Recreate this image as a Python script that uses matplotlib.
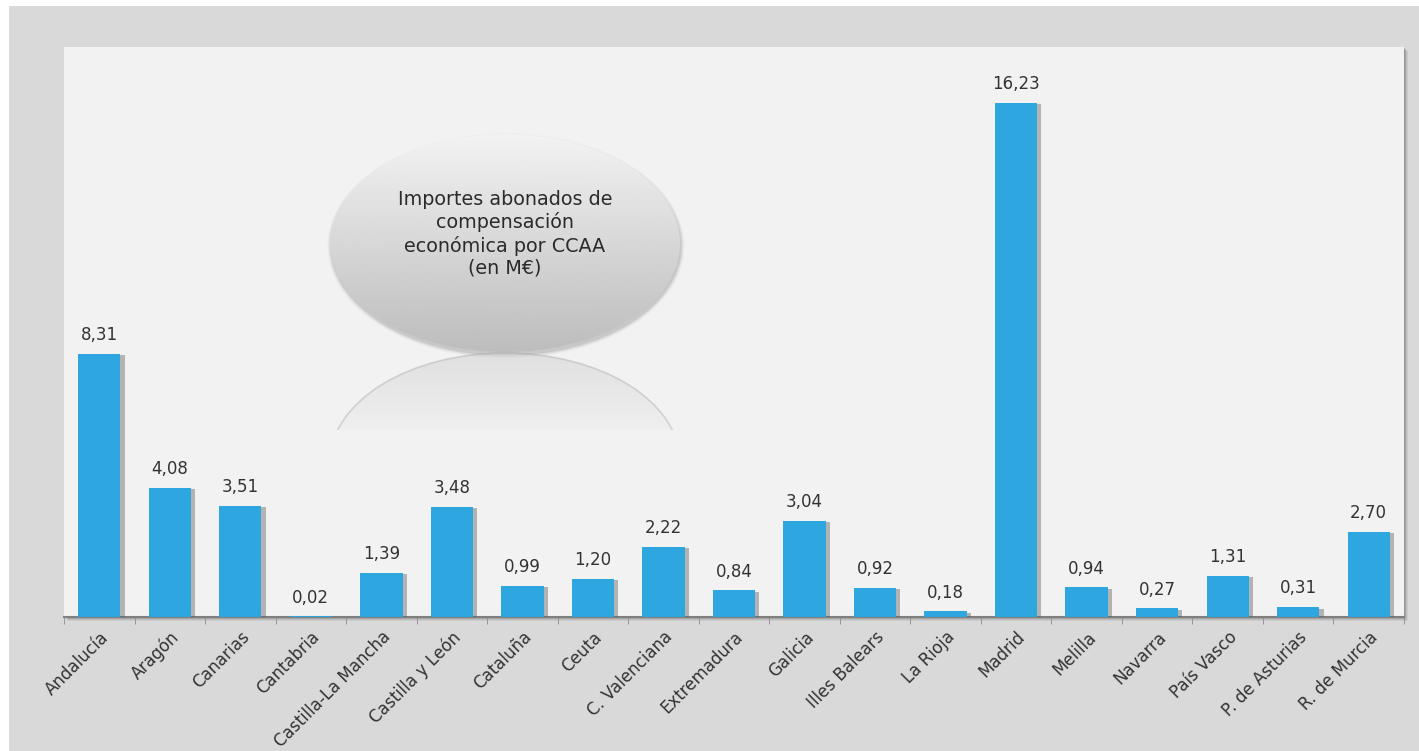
import matplotlib.pyplot as plt
import matplotlib.patheffects as pe
from matplotlib.patches import Ellipse, Rectangle
import numpy as np

regiones = ["Andalucía", "Aragón", "Canarias", "Cantabria", "Castilla-La Mancha",
            "Castilla y León", "Cataluña", "Ceuta", "C. Valenciana", "Extremadura",
            "Galicia", "Illes Balears", "La Rioja", "Madrid", "Melilla", "Navarra",
            "País Vasco", "P. de Asturias", "R. de Murcia"]
importes = [8.31, 4.08, 3.51, 0.02, 1.39, 3.48, 0.99, 1.20, 2.22, 0.84,
            3.04, 0.92, 0.18, 16.23, 0.94, 0.27, 1.31, 0.31, 2.70]
titulo = "Importes abonados de\ncompensación\neconómica por CCAA\n(en M€)"

W, H = 1419, 751
fig = plt.figure(figsize=(W / 100, H / 100), dpi=100, facecolor="white")
plt.rcParams["font.family"] = ["DejaVu Sans"]

# gray frame behind everything
fig.patches.append(Rectangle((9 / W, 0), 1 - 9 / W, 1 - 6 / H, transform=fig.transFigure,
                             facecolor="#d9d9d9", edgecolor="none", zorder=-3))

x0, x1, y0, y1 = 64, 1404, 47, 617
ax_rect = [x0 / W, 1 - y1 / H, (x1 - x0) / W, (y1 - y0) / H]
# drop shadow of the plot area
for k, a in [(4, 0.10), (3, 0.15), (2, 0.2), (1, 0.25)]:
    fig.patches.append(Rectangle((ax_rect[0] + k / W, ax_rect[1] - k / H), ax_rect[2], ax_rect[3],
                                 transform=fig.transFigure, facecolor="#606060", alpha=a,
                                 edgecolor="none", zorder=-2))
ax = fig.add_axes(ax_rect)
ax.set_facecolor("#f2f2f2")

x = np.arange(len(regiones))
bars = ax.bar(x, importes, width=0.6, color="#2ea6df", zorder=3)
for b in bars:
    b.set_path_effects([pe.SimplePatchShadow(offset=(3, -1), shadow_rgbFace="#555555", alpha=0.4),
                        pe.Normal()])
for xi, v in zip(x, importes):
    ax.annotate("{:.2f}".format(v).replace(".", ","), (xi, v), xytext=(0, 7),
                textcoords="offset points", ha="center", va="bottom",
                fontsize=12, color="#333333", zorder=4)

ax.set_xlim(-0.5, len(regiones) - 0.5)
ax.set_ylim(0, 18)
ax.set_yticks([])
ax.set_xticks(x)
ax.set_xticklabels(regiones, rotation=45, ha="right", rotation_mode="anchor",
                   fontsize=12, color="#333333")
ax.tick_params(axis="x", which="major", length=0, pad=8)
ax.set_xticks(np.arange(-0.5, len(regiones)), minor=True)
ax.tick_params(axis="x", which="minor", length=5, color="#8c8c8c")
for s in ["top", "left", "right"]:
    ax.spines[s].set_visible(False)
ax.spines["bottom"].set_color("#7f7f7f")
ax.spines["bottom"].set_linewidth(1.5)

# ellipse with gradient and reflection
ex0, ex1, ey0, ey1 = 326, 686, 130, 440
eax = fig.add_axes([ex0 / W, 1 - ey1 / H, (ex1 - ex0) / W, (ey1 - ey0) / H])
eax.axis("off")
cx, cy, ew, eh = 505, 243, 350, 218
for k, a in [(7, 0.04), (5, 0.06), (3, 0.09), (1, 0.12)]:
    eax.add_patch(Ellipse((cx + 1, cy + 3), ew + k, eh + k, facecolor="#606060",
                          alpha=a, edgecolor="none"))
grad = np.linspace(0.95, 0.74, 256).reshape(-1, 1)
img = eax.imshow(np.repeat(grad, 2, axis=1), cmap="gray", vmin=0, vmax=1, aspect="auto",
                 extent=(cx - ew / 2, cx + ew / 2, cy + eh / 2, cy - eh / 2), zorder=2)
img.set_clip_path(Ellipse((cx, cy), ew, eh, transform=eax.transData))
eax.text(cx, 234, titulo, ha="center", va="center", fontsize=13.8, color="#2b2b2b",
         linespacing=1.2, zorder=3)

# reflection: lower part fades out, cut at y=430
ry = cy + eh + 1
cut = 430
rgrad = np.zeros((256, 2, 4))
rgrad[..., :3] = 0.82
rgrad[..., 3] = np.linspace(0.55, 0.08, 256).reshape(-1, 1)
rimg = eax.imshow(rgrad, aspect="auto", extent=(cx - ew / 2, cx + ew / 2, cut, ry - eh / 2),
                  zorder=1, interpolation="bilinear")
rimg.set_clip_path(Ellipse((cx, ry), ew, eh, transform=eax.transData))
edge = Ellipse((cx, ry), ew, eh, facecolor="none", edgecolor="#9a9a9a", lw=1.2, alpha=0.35, zorder=1)
eax.add_patch(edge)
edge.set_clip_path(Rectangle((ex0, ey0), ex1 - ex0, cut - ey0, transform=eax.transData))
eax.set_xlim(ex0, ex1)
eax.set_ylim(ey1, ey0)

fig.savefig("out.png", dpi=100, facecolor="white")
